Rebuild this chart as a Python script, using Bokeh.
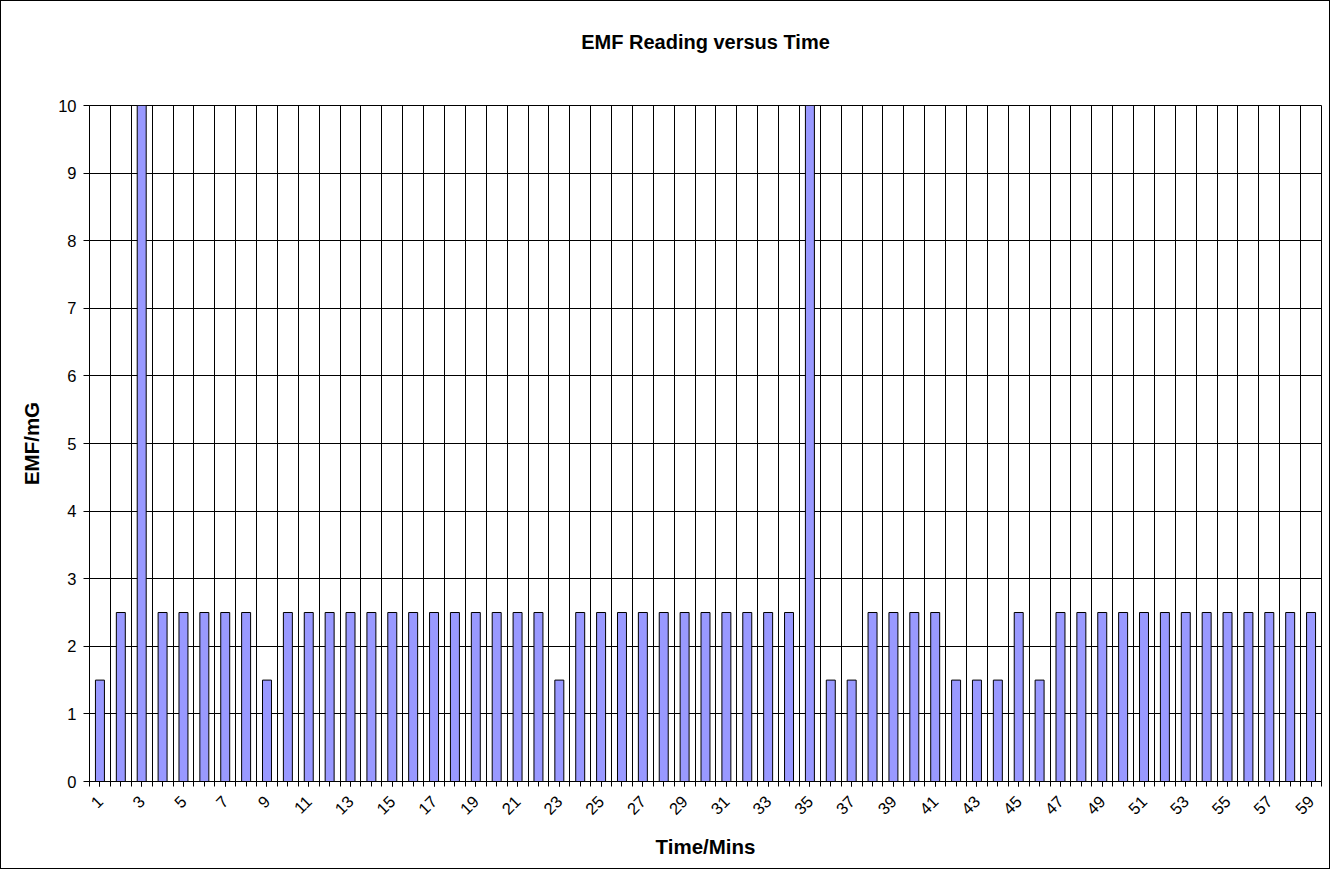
import math
from bokeh.plotting import figure
from bokeh.models import Range1d, FixedTicker, Title
from bokeh.embed import file_html
from bokeh.resources import INLINE

# ---- data ----
minutes = [1, 2, 3, 4, 5, 6, 7, 8, 9, 10, 11, 12, 13, 14, 15, 16, 17, 18, 19, 20,
           21, 22, 23, 24, 25, 26, 27, 28, 29, 30, 31, 32, 33, 34, 35, 36, 37, 38, 39, 40,
           41, 42, 43, 44, 45, 46, 47, 48, 49, 50, 51, 52, 53, 54, 55, 56, 57, 58, 59]
emf = [1.5, 2.5, 10, 2.5, 2.5, 2.5, 2.5, 2.5, 1.5, 2.5,
       2.5, 2.5, 2.5, 2.5, 2.5, 2.5, 2.5, 2.5, 2.5, 2.5,
       2.5, 2.5, 1.5, 2.5, 2.5, 2.5, 2.5, 2.5, 2.5, 2.5,
       2.5, 2.5, 2.5, 2.5, 10, 1.5, 1.5, 2.5, 2.5, 2.5,
       2.5, 1.5, 1.5, 1.5, 2.5, 1.5, 2.5, 2.5, 2.5, 2.5,
       2.5, 2.5, 2.5, 2.5, 2.5, 2.5, 2.5, 2.5, 2.5]
x_tick_labels = [1, 3, 5, 7, 9, 11, 13, 15, 17, 19, 21, 23, 25, 27, 29,
                 31, 33, 35, 37, 39, 41, 43, 45, 47, 49, 51, 53, 55, 57, 59]
y_ticks = [0, 1, 2, 3, 4, 5, 6, 7, 8, 9, 10]

FONT = "Liberation Sans"

n = len(minutes)
x_lo = minutes[0] - 0.5
x_hi = minutes[-1] + 0.5
boundaries = [x_lo + i for i in range(n + 1)]
half_steps = sorted(set(boundaries + minutes))

p = figure(width=1330, height=869, output_backend="svg", toolbar_location=None,
           x_range=Range1d(x_lo, x_hi), y_range=Range1d(0, 10),
           min_border_left=88, min_border_right=10, min_border_top=104, min_border_bottom=89)
p.styles = {"border": "1px solid black"}
p.background_fill_color = "white"
p.border_fill_color = "white"
p.outline_line_color = "black"

p.vbar(x=minutes, top=emf, width=0.43, bottom=0,
       fill_color="#9999FF", line_color="black", line_width=1)

# spacer between frame and title (keeps the title high above the plot)
spacer = Title(text=" ", text_font_size="1px", standoff=21)
p.add_layout(spacer, "above")
title = Title(text="EMF Reading versus Time", align="center", vertical_align="top",
              text_font=FONT, text_font_size="20px", text_font_style="bold",
              text_color="black", standoff=54)
p.add_layout(title, "above")

# grids
p.xgrid.ticker = FixedTicker(ticks=boundaries)
p.xgrid.grid_line_color = "black"
p.xgrid.grid_line_width = 1
p.ygrid.ticker = FixedTicker(ticks=y_ticks)
p.ygrid.grid_line_color = "black"
p.ygrid.grid_line_width = 1

# x axis
xa = p.xaxis[0]
xa.ticker = FixedTicker(ticks=x_tick_labels, minor_ticks=half_steps)
xa.major_label_orientation = math.pi / 4
xa.major_tick_in = 0
xa.major_tick_out = 5
xa.minor_tick_in = 0
xa.minor_tick_out = 5
xa.major_tick_line_color = "black"
xa.minor_tick_line_color = "black"
xa.axis_line_color = "black"
xa.major_label_text_font = FONT
xa.major_label_text_font_size = "16.5px"
xa.major_label_text_color = "black"
xa.major_label_standoff = 12
xa.axis_label = "Time/Mins"
xa.axis_label_text_font = FONT
xa.axis_label_text_font_size = "20.5px"
xa.axis_label_text_font_style = "bold"
xa.axis_label_text_color = "black"
xa.axis_label_standoff = 12

# y axis
ya = p.yaxis[0]
ya.ticker = FixedTicker(ticks=y_ticks)
ya.major_tick_in = 0
ya.major_tick_out = 6
ya.minor_tick_line_color = None
ya.major_tick_line_color = "black"
ya.axis_line_color = "black"
ya.major_label_text_font = FONT
ya.major_label_text_font_size = "16.5px"
ya.major_label_text_color = "black"
ya.major_label_standoff = 7
ya.axis_label = "EMF/mG"
ya.axis_label_text_font = FONT
ya.axis_label_text_font_size = "20.5px"
ya.axis_label_text_font_style = "bold"
ya.axis_label_text_color = "black"
ya.axis_label_standoff = 12

open("out.html", "w").write(file_html(p, INLINE))
